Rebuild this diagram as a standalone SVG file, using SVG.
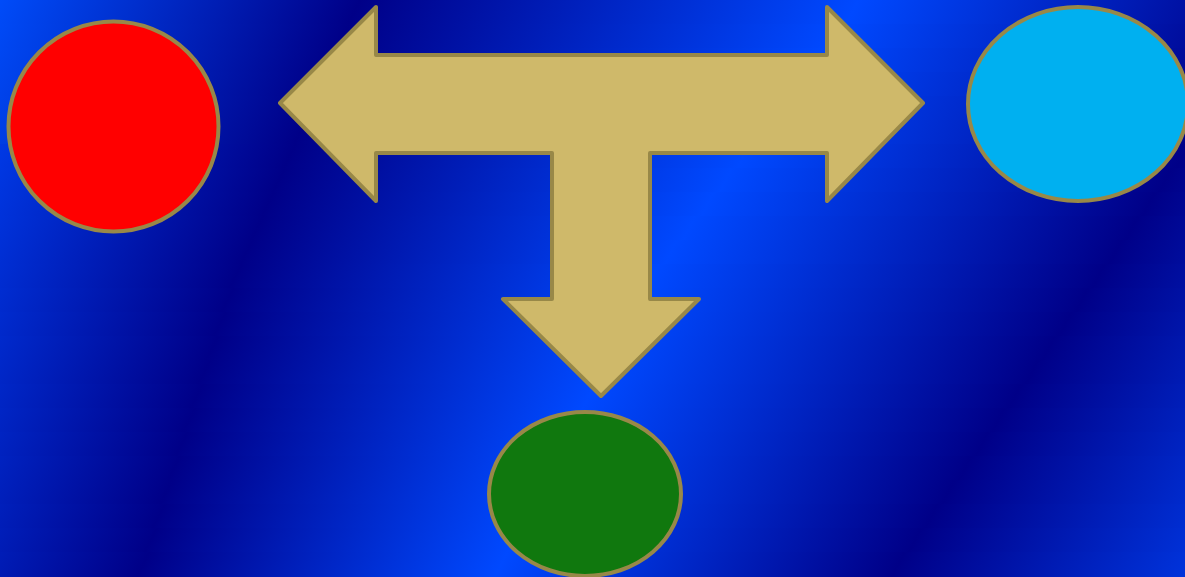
<svg xmlns="http://www.w3.org/2000/svg" width="1185" height="577" viewBox="0 0 1185 577">
  <defs>
    <style>
      .b { stop-color: #0049ff; }
      .b0 { stop-color: #0050ff; }
      .d { stop-color: #000088; }
      .shape { stroke: #988848; stroke-width: 4; stroke-linejoin: round; }
      .arrow { fill: #cfb96a; }
    </style>
    <linearGradient id="g0" gradientUnits="userSpaceOnUse" x1="-700" y1="12" x2="1380" y2="1052"><stop class="b0" offset="0.2592"/><stop class="d" offset="0.4054"/><stop class="b" offset="0.5971"/><stop class="d" offset="0.7625"/><stop class="b" offset="0.9240"/></linearGradient>
    <linearGradient id="g1" gradientUnits="userSpaceOnUse" x1="-700" y1="36" x2="1380" y2="1076"><stop class="b0" offset="0.2551"/><stop class="d" offset="0.4013"/><stop class="b" offset="0.5902"/><stop class="d" offset="0.7561"/><stop class="b" offset="0.9176"/></linearGradient>
    <linearGradient id="g2" gradientUnits="userSpaceOnUse" x1="-700" y1="60" x2="1380" y2="1100"><stop class="b0" offset="0.2510"/><stop class="d" offset="0.3972"/><stop class="b" offset="0.5832"/><stop class="d" offset="0.7497"/><stop class="b" offset="0.9112"/></linearGradient>
    <linearGradient id="g3" gradientUnits="userSpaceOnUse" x1="-700" y1="84" x2="1380" y2="1124"><stop class="b0" offset="0.2468"/><stop class="d" offset="0.3930"/><stop class="b" offset="0.5762"/><stop class="d" offset="0.7432"/><stop class="b" offset="0.9047"/></linearGradient>
    <linearGradient id="g4" gradientUnits="userSpaceOnUse" x1="-700" y1="108" x2="1380" y2="1148"><stop class="b0" offset="0.2427"/><stop class="d" offset="0.3889"/><stop class="b" offset="0.5692"/><stop class="d" offset="0.7368"/><stop class="b" offset="0.8983"/></linearGradient>
    <linearGradient id="g5" gradientUnits="userSpaceOnUse" x1="-700" y1="132" x2="1380" y2="1172"><stop class="b0" offset="0.2385"/><stop class="d" offset="0.3847"/><stop class="b" offset="0.5622"/><stop class="d" offset="0.7304"/><stop class="b" offset="0.8919"/></linearGradient>
    <linearGradient id="g6" gradientUnits="userSpaceOnUse" x1="-700" y1="156" x2="1380" y2="1196"><stop class="b" offset="0.2344"/><stop class="d" offset="0.3806"/><stop class="b" offset="0.5552"/><stop class="d" offset="0.7240"/><stop class="b" offset="0.8855"/></linearGradient>
    <linearGradient id="g7" gradientUnits="userSpaceOnUse" x1="-700" y1="180" x2="1380" y2="1220"><stop class="b" offset="0.2303"/><stop class="d" offset="0.3765"/><stop class="b" offset="0.5483"/><stop class="d" offset="0.7175"/><stop class="b" offset="0.8790"/></linearGradient>
    <linearGradient id="g8" gradientUnits="userSpaceOnUse" x1="-700" y1="204" x2="1380" y2="1244"><stop class="b" offset="0.2261"/><stop class="d" offset="0.3723"/><stop class="b" offset="0.5413"/><stop class="d" offset="0.7111"/><stop class="b" offset="0.8726"/></linearGradient>
    <linearGradient id="g9" gradientUnits="userSpaceOnUse" x1="-700" y1="228" x2="1380" y2="1268"><stop class="b" offset="0.2220"/><stop class="d" offset="0.3682"/><stop class="b" offset="0.5343"/><stop class="d" offset="0.7047"/><stop class="b" offset="0.8662"/></linearGradient>
    <linearGradient id="g10" gradientUnits="userSpaceOnUse" x1="-700" y1="252" x2="1380" y2="1292"><stop class="b" offset="0.2179"/><stop class="d" offset="0.3641"/><stop class="b" offset="0.5273"/><stop class="d" offset="0.6983"/><stop class="b" offset="0.8598"/></linearGradient>
    <linearGradient id="g11" gradientUnits="userSpaceOnUse" x1="-700" y1="276" x2="1380" y2="1316"><stop class="b" offset="0.2137"/><stop class="d" offset="0.3599"/><stop class="b" offset="0.5203"/><stop class="d" offset="0.6918"/><stop class="b" offset="0.8533"/></linearGradient>
    <linearGradient id="g12" gradientUnits="userSpaceOnUse" x1="-700" y1="300" x2="1380" y2="1340"><stop class="b" offset="0.2106"/><stop class="d" offset="0.3568"/><stop class="b" offset="0.5152"/><stop class="d" offset="0.6854"/><stop class="b" offset="0.8469"/></linearGradient>
    <linearGradient id="g13" gradientUnits="userSpaceOnUse" x1="-700" y1="324" x2="1380" y2="1364"><stop class="b" offset="0.2076"/><stop class="d" offset="0.3538"/><stop class="b" offset="0.5104"/><stop class="d" offset="0.6790"/><stop class="b" offset="0.8405"/></linearGradient>
    <linearGradient id="g14" gradientUnits="userSpaceOnUse" x1="-700" y1="348" x2="1380" y2="1388"><stop class="b" offset="0.2047"/><stop class="d" offset="0.3509"/><stop class="b" offset="0.5055"/><stop class="d" offset="0.6726"/><stop class="b" offset="0.8341"/></linearGradient>
    <linearGradient id="g15" gradientUnits="userSpaceOnUse" x1="-700" y1="372" x2="1380" y2="1412"><stop class="b" offset="0.2017"/><stop class="d" offset="0.3479"/><stop class="b" offset="0.5007"/><stop class="d" offset="0.6662"/><stop class="b" offset="0.8277"/></linearGradient>
    <linearGradient id="g16" gradientUnits="userSpaceOnUse" x1="-700" y1="396" x2="1380" y2="1436"><stop class="b" offset="0.1988"/><stop class="d" offset="0.3450"/><stop class="b" offset="0.4959"/><stop class="d" offset="0.6597"/><stop class="b" offset="0.8212"/></linearGradient>
    <linearGradient id="g17" gradientUnits="userSpaceOnUse" x1="-700" y1="420" x2="1380" y2="1460"><stop class="b" offset="0.1958"/><stop class="d" offset="0.3420"/><stop class="b" offset="0.4911"/><stop class="d" offset="0.6533"/><stop class="b" offset="0.8148"/></linearGradient>
    <linearGradient id="g18" gradientUnits="userSpaceOnUse" x1="-700" y1="444" x2="1380" y2="1484"><stop class="b" offset="0.1929"/><stop class="d" offset="0.3391"/><stop class="b" offset="0.4862"/><stop class="d" offset="0.6469"/><stop class="b" offset="0.8084"/></linearGradient>
    <linearGradient id="g19" gradientUnits="userSpaceOnUse" x1="-700" y1="468" x2="1380" y2="1508"><stop class="b" offset="0.1900"/><stop class="d" offset="0.3362"/><stop class="b" offset="0.4814"/><stop class="d" offset="0.6405"/><stop class="b" offset="0.8020"/></linearGradient>
    <linearGradient id="g20" gradientUnits="userSpaceOnUse" x1="-700" y1="492" x2="1380" y2="1532"><stop class="b" offset="0.1870"/><stop class="d" offset="0.3332"/><stop class="b" offset="0.4766"/><stop class="d" offset="0.6340"/><stop class="b" offset="0.7955"/></linearGradient>
    <linearGradient id="g21" gradientUnits="userSpaceOnUse" x1="-700" y1="516" x2="1380" y2="1556"><stop class="b" offset="0.1841"/><stop class="d" offset="0.3303"/><stop class="b" offset="0.4718"/><stop class="d" offset="0.6276"/><stop class="b" offset="0.7891"/></linearGradient>
    <linearGradient id="g22" gradientUnits="userSpaceOnUse" x1="-700" y1="540" x2="1380" y2="1580"><stop class="b" offset="0.1811"/><stop class="d" offset="0.3273"/><stop class="b" offset="0.4669"/><stop class="d" offset="0.6212"/><stop class="b" offset="0.7827"/></linearGradient>
    <linearGradient id="g23" gradientUnits="userSpaceOnUse" x1="-700" y1="564" x2="1380" y2="1604"><stop class="b" offset="0.1782"/><stop class="d" offset="0.3244"/><stop class="b" offset="0.4621"/><stop class="d" offset="0.6148"/><stop class="b" offset="0.7763"/></linearGradient>
  </defs>
  <g id="background">
    <rect x="0" y="0" width="1185" height="24" fill="url(#g0)"/>
    <rect x="0" y="24" width="1185" height="24" fill="url(#g1)"/>
    <rect x="0" y="48" width="1185" height="24" fill="url(#g2)"/>
    <rect x="0" y="72" width="1185" height="24" fill="url(#g3)"/>
    <rect x="0" y="96" width="1185" height="24" fill="url(#g4)"/>
    <rect x="0" y="120" width="1185" height="24" fill="url(#g5)"/>
    <rect x="0" y="144" width="1185" height="24" fill="url(#g6)"/>
    <rect x="0" y="168" width="1185" height="24" fill="url(#g7)"/>
    <rect x="0" y="192" width="1185" height="24" fill="url(#g8)"/>
    <rect x="0" y="216" width="1185" height="24" fill="url(#g9)"/>
    <rect x="0" y="240" width="1185" height="24" fill="url(#g10)"/>
    <rect x="0" y="264" width="1185" height="24" fill="url(#g11)"/>
    <rect x="0" y="288" width="1185" height="24" fill="url(#g12)"/>
    <rect x="0" y="312" width="1185" height="24" fill="url(#g13)"/>
    <rect x="0" y="336" width="1185" height="24" fill="url(#g14)"/>
    <rect x="0" y="360" width="1185" height="24" fill="url(#g15)"/>
    <rect x="0" y="384" width="1185" height="24" fill="url(#g16)"/>
    <rect x="0" y="408" width="1185" height="24" fill="url(#g17)"/>
    <rect x="0" y="432" width="1185" height="24" fill="url(#g18)"/>
    <rect x="0" y="456" width="1185" height="24" fill="url(#g19)"/>
    <rect x="0" y="480" width="1185" height="24" fill="url(#g20)"/>
    <rect x="0" y="504" width="1185" height="24" fill="url(#g21)"/>
    <rect x="0" y="528" width="1185" height="24" fill="url(#g22)"/>
    <rect x="0" y="552" width="1185" height="25" fill="url(#g23)"/>
  </g>
  <g id="connectors">
    <path class="shape arrow" d="M280,103 L376,7 L376,55 L827,55 L827,7 L923,103 L827,201 L827,153 L650,153 L650,299 L699,299 L601,396 L503,299 L552,299 L552,153 L376,153 L376,201 Z"/>
  </g>
  <g id="node-red">
    <ellipse class="shape" cx="113.5" cy="126.5" rx="105" ry="105" fill="#ff0000"/>
  </g>
  <g id="node-cyan">
    <ellipse class="shape" cx="1078" cy="104" rx="110" ry="97" fill="#00b0f0"/>
  </g>
  <g id="node-green">
    <ellipse class="shape" cx="585" cy="494" rx="96" ry="82" fill="#10780e"/>
  </g>
</svg>
